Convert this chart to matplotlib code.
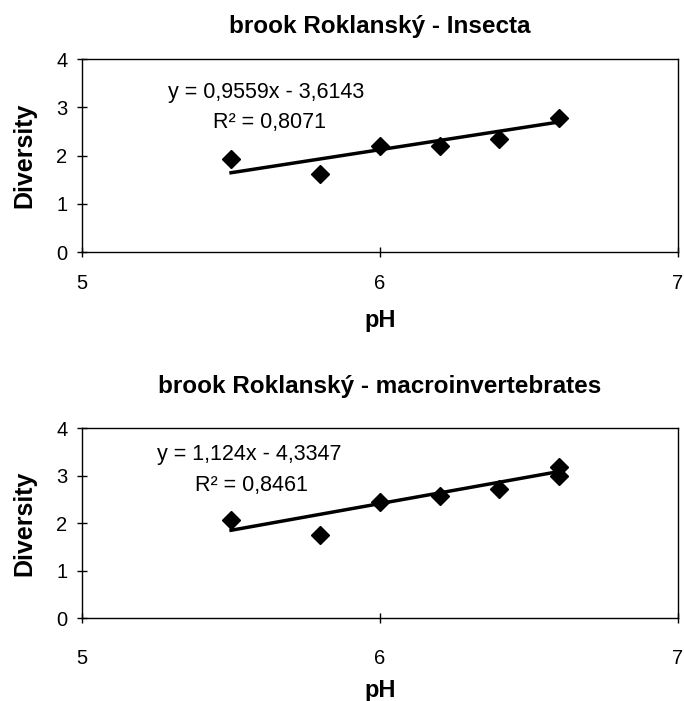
import matplotlib
matplotlib.use('Agg')
import matplotlib.pyplot as plt
import numpy as np

plt.rcParams['font.family'] = ['Liberation Sans', 'DejaVu Sans']

# pH values and diversity
ph_insecta = [5.5, 5.8, 6.0, 6.2, 6.4, 6.6]
div_insecta = [1.92, 1.61, 2.20, 2.19, 2.35, 2.78]

ph_macro = [5.5, 5.8, 6.0, 6.2, 6.4, 6.6, 6.6]
div_macro = [2.07, 1.74, 2.44, 2.57, 2.72, 3.17, 3.00]

# trendline coefficients printed in the chart
fit_insecta = (0.9559, -3.6143, 0.8071)
fit_macro = (1.124, -4.3347, 0.8461)

titles = ['brook Roklanský - Insecta', 'brook Roklanský - macroinvertebrates']
eq_texts = [('y = 0,9559x - 3,6143', 'R² = 0,8071'),
            ('y = 1,124x - 4,3347', 'R² = 0,8461')]


def draw_panel(ax, x, y, fit, title, eq, eq_pos, r2_pos, title_pad, xpad, xlabelpad):
    ax.plot(x, y, linestyle='none', marker='D', color='black', markersize=9)
    xs = np.array([min(x), max(x)])
    ax.plot(xs, fit[0] * xs + fit[1], color='black', lw=2.5)

    ax.set_xlim(5, 7)
    ax.set_ylim(0, 4)
    ax.set_xticks([5, 6, 7])
    ax.set_yticks([0, 1, 2, 3, 4])
    ax.tick_params(direction='inout', length=7, width=1, labelsize=14.5, colors='black')
    ax.tick_params(axis='x', pad=xpad)
    ax.tick_params(axis='y', pad=7)
    for sp in ax.spines.values():
        sp.set_linewidth(1)
        sp.set_color('black')

    ax.set_title(title, fontsize=17.5, fontweight='bold', pad=title_pad)
    ax.set_xlabel('pH', fontsize=17, fontweight='bold', labelpad=xlabelpad)
    ax.set_ylabel('Diversity', fontsize=18, fontweight='bold', labelpad=14)

    ax.text(eq_pos[0], eq_pos[1], eq[0], fontsize=15.5, va='center', ha='left')
    ax.text(r2_pos[0], r2_pos[1], eq[1], fontsize=15.5, va='center', ha='left')


fig = plt.figure(figsize=(6.84, 7.01), dpi=100)
ax1 = fig.add_axes([0.12, 0.6405, 0.8713, 0.2753])
ax2 = fig.add_axes([0.12, 0.1184, 0.8713, 0.271])

draw_panel(ax1, ph_insecta, div_insecta, fit_insecta, titles[0], eq_texts[0],
           (5.29, 3.31), (5.44, 2.68), title_pad=19, xpad=12.5, xlabelpad=11)
draw_panel(ax2, ph_macro, div_macro, fit_macro, titles[1], eq_texts[1],
           (5.25, 3.44), (5.38, 2.80), title_pad=25, xpad=18.5, xlabelpad=8)

fig.savefig('out.png', dpi=100)
